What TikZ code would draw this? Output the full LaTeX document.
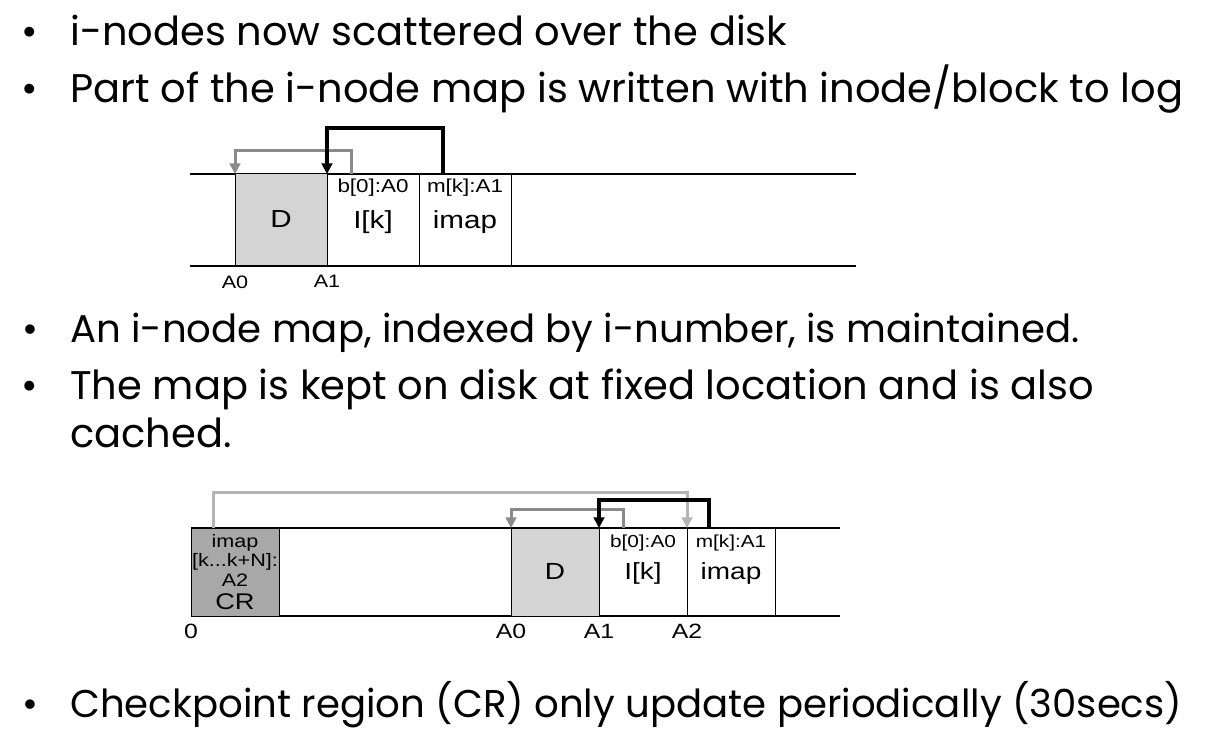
\documentclass[tikz,border=0pt]{standalone}
\usepackage{fontspec}
\setmainfont{Poppins}
\newfontfamily\figfont[FakeStretch=1.2]{Liberation Sans}
\usetikzlibrary{positioning,arrows.meta}

\definecolor{lite}{HTML}{D4D4D4}
\definecolor{dark}{HTML}{A8A8A8}
\definecolor{midgray}{HTML}{8A8A8A}
\definecolor{palegray}{HTML}{B4B4B4}

\tikzset{
  bul/.style={anchor=base west, inner sep=0pt, font=\fontsize{30}{34}\selectfont},
  rail/.style={line width=1.1pt},
  blk/.style={draw, line width=0.75pt, minimum width=69pt, minimum height=69pt, text depth=1pt,
    inner sep=0pt, outer sep=0pt, font=\figfont\fontsize{18.5}{20}\selectfont},
  blkb/.style={blk, minimum width=66pt, minimum height=66pt, font=\figfont\fontsize{17.5}{19}\selectfont},
  tag/.style={inner sep=0pt, font=\figfont\fontsize{14}{15}\selectfont},
  tagb/.style={tag, font=\figfont\fontsize{13}{14}\selectfont},
  addr/.style={inner sep=0pt, font=\figfont\fontsize{13.5}{14}\selectfont},
  addrb/.style={addr, font=\figfont\fontsize{15.5}{16}\selectfont},
  ptr/.style={line width=2.25pt, -{Triangle[length=8pt,width=8pt]}},
  bptr/.style={ptr, line width=3pt}
}

\begin{document}
\begin{tikzpicture}[x=0.75pt, y=-0.75pt]
  \useasboundingbox (0,0) rectangle (1210,748);

  \node[bul] (b1) at (70,46) {\llap{\textbullet\hspace{24pt}}i-nodes now scattered over the disk};
  \node[bul] (b2) at (70,103) {\llap{\textbullet\hspace{24pt}}Part of the i-node map is written with inode/block to log};

  \draw[rail] (190,174) -- (856,174) (190,266) -- (856,266);
  \node[blk, fill=lite, anchor=north west] (D1) at (235,174) {D};
  \node[blk, right=0pt of D1] (I1) {I[k]};
  \node[blk, right=0pt of I1] (M1) {imap};
  \node[tag] (tI1) at ([yshift=-10pt]I1.north) {b[0]:A0};
  \node[tag] (tM1) at ([yshift=-10pt]M1.north) {m[k]:A1};
  \node[addr, below=7pt of D1.south west] (a01) {A0};
  \node[addr, below=7pt of I1.south west] (a11) {A1};
  \draw[ptr, midgray] ([xshift=18pt]I1.north west) -- ++(0,-23) -| (D1.north west);
  \draw[bptr] ([xshift=18pt]M1.north west) -- ++(0,-46) -| (I1.north west);

  \node[bul, font=\fontsize{29}{34}\selectfont] (b3) at (70,343) {\llap{\textbullet\hspace{24pt}}An i-node map, indexed by i-number, is maintained.};
  \node[bul] (b4) at (70,400) {\llap{\textbullet\hspace{24pt}}The map is kept on disk at fixed location and is also};
  \node[bul] (b4c) at (70,447) {cached.};

  \draw[rail] (191,528) -- (840,528) (191,616) -- (840,616);
  \node[blkb, fill=dark, anchor=north west, align=center, text depth=0pt,
        font=\figfont\fontsize{13.5}{14.5}\selectfont] (CR) at (191,528)
        {imap\\{}[k...k+N]:\\A2\\[3pt]{\fontsize{17}{19}\selectfont CR}};
  \node[blkb, fill=lite, anchor=north west] (D2) at (511,528) {D};
  \node[blkb, right=0pt of D2] (I2) {I[k]};
  \node[blkb, right=0pt of I2] (M2) {imap};
  \node[tagb] (tI2) at ([yshift=-11.5pt]I2.north) {b[0]:A0};
  \node[tagb] (tM2) at ([yshift=-11.5pt]M2.north) {m[k]:A1};
  \node[addrb, below=6pt of CR.south west] (z0) {0};
  \node[addrb, below=6pt of D2.south west] (a02) {A0};
  \node[addrb, below=6pt of I2.south west] (a12) {A1};
  \node[addrb, below=6pt of M2.south west] (a22) {A2};
  \draw[ptr, palegray] ([xshift=16.5pt]CR.north west) -- ++(0,-36) -| (M2.north west);
  \draw[ptr, midgray] ([xshift=18pt]I2.north west) -- ++(0,-19) -| (D2.north west);
  \draw[bptr] ([xshift=16.5pt]M2.north west) -- ++(0,-28) -| (I2.north west);

  \node[bul, font=\fontsize{29}{34}\selectfont] (b5) at (70,717) {\llap{\textbullet\hspace{24pt}}Checkpoint region (CR) only update periodically (30secs)};
\end{tikzpicture}
\end{document}
